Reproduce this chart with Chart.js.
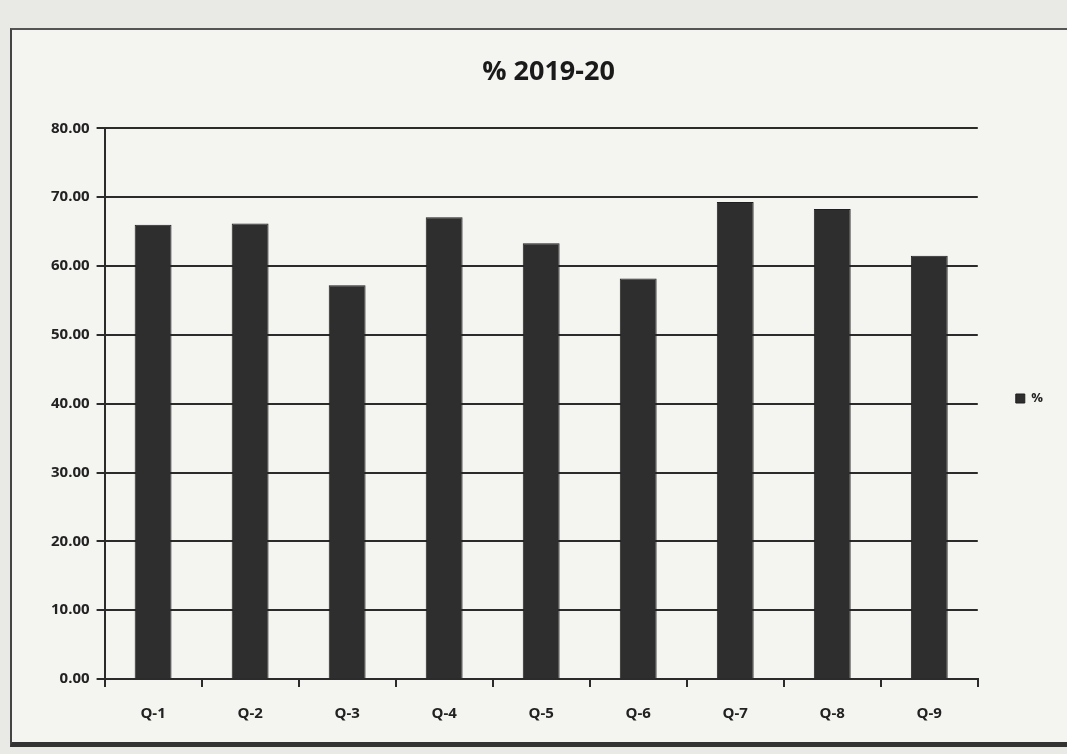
<!DOCTYPE html>
<html>
<head>
<meta charset="utf-8">
<script src="https://cdn.jsdelivr.net/npm/chart.js@4"></script>
<style>
  body { margin: 0; background: #e9e9e6; width: 1067px; height: 754px; overflow: hidden; position: relative; }
  #frame { position: absolute; left: 10px; top: 28px; width: 1100px; height: 712px; background: #f4f4f1;
           border-left: 2px solid #444; border-top: 2px solid #555; border-bottom: 5px solid #333; }
  #wrap { position: absolute; left: 0; top: 0; width: 1067px; height: 754px; }
</style>
</head>
<body>
<div id="frame"></div>
<div id="wrap"><canvas id="chartCanvas"></canvas></div>
<script>
const categories = ['Q-1', 'Q-2', 'Q-3', 'Q-4', 'Q-5', 'Q-6', 'Q-7', 'Q-8', 'Q-9'];
const percentValues = [66.0, 66.2, 57.2, 67.1, 63.3, 58.2, 69.3, 68.3, 61.5];
const seriesLabel = '%';
const chartTitle = '% 2019-20';

const ink = '#2b2b2b';

// Build chart
const ctx = document.getElementById('chartCanvas').getContext('2d');
new Chart(ctx, {
    type: 'bar',
    data: {
        labels: categories,
        datasets: [{
            label: seriesLabel,
            data: percentValues,
            backgroundColor: '#2e2e2e',
            borderColor: '#1f1f1f',
            borderWidth: 1,
            categoryPercentage: 1,
            barPercentage: 0.38
        }]
    },
    options: {
        responsive: true,
        maintainAspectRatio: false,
        animation: false,
        layout: {
            padding: { top: 56, left: 44, right: 14, bottom: 13 }
        },
        scales: {
            x: {
                grid: {
                    offset: true,
                    drawOnChartArea: false,
                    color: ink,
                    lineWidth: 2,
                    tickLength: 8
                },
                border: { color: ink, width: 2 },
                ticks: {
                    color: '#222',
                    padding: 18,
                    font: { family: 'Open Sans', size: 15, weight: 'bold' }
                }
            },
            y: {
                min: 0,
                max: 80,
                ticks: {
                    stepSize: 10,
                    color: '#222',
                    padding: 7,
                    font: { family: 'Open Sans', size: 15, weight: 'bold' },
                    callback: function(value) { return value.toFixed(2); }
                },
                grid: { color: ink, lineWidth: 2, tickLength: 8 },
                border: { color: ink, width: 2 }
            }
        },
        plugins: {
            title: {
                display: true,
                text: chartTitle,
                color: '#1a1a1a',
                font: { family: 'Open Sans', size: 27, weight: 'bold' },
                padding: { top: 0, bottom: 40 }
            },
            legend: {
                position: 'right',
                labels: {
                    boxWidth: 9,
                    boxHeight: 9,
                    padding: 38,
                    color: '#222',
                    font: { family: 'Open Sans', size: 13, weight: 'bold' }
                }
            },
            tooltip: { enabled: false }
        }
    }
});
</script>
</body>
</html>
